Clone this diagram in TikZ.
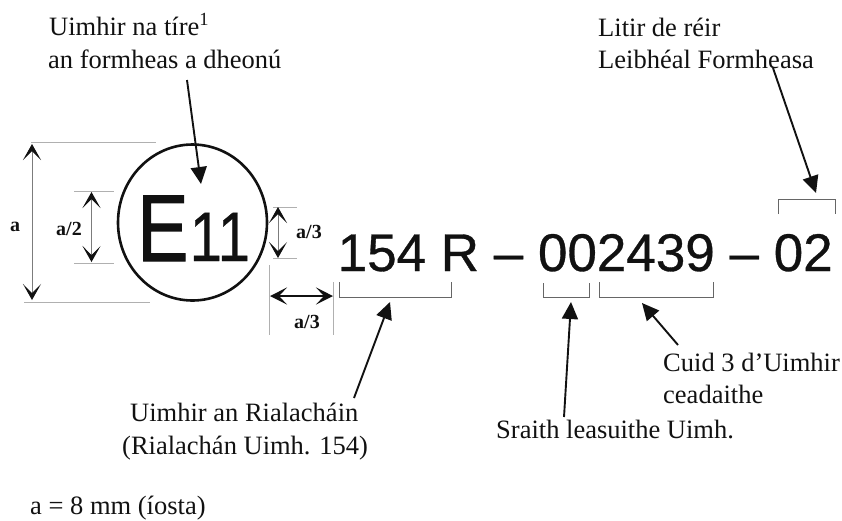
\documentclass[tikz,border=0pt]{standalone}
\usepackage{fontspec}
\setmainfont{Liberation Serif}
\newfontfamily\numfont[FakeBold=0.6]{Liberation Sans}
\newfontfamily\markfont[FakeBold=1.2]{Liberation Sans}
\usetikzlibrary{arrows.meta,shapes.geometric}
\definecolor{ink}{HTML}{111111}
\definecolor{guide}{HTML}{B0B0B0}
\definecolor{brk}{HTML}{666666}
\tikzset{
  lbl/.style={anchor=base west,inner sep=0pt,text=ink,font=\fontsize{26.5}{26.5}\selectfont},
  dimlbl/.style={anchor=base west,inner sep=0pt,text=ink,font=\fontsize{20}{20}\selectfont\bfseries},
  pointer/.style={draw=ink,line width=1.9pt,-{Triangle[length=17pt,width=16pt]}},
  guideline/.style={draw=guide,line width=1pt},
  bracket/.style={draw=brk,line width=1pt},
  dimthin/.style={draw=ink!55,line width=1pt,{Stealth[length=16pt,width=18pt,inset=9pt,color=ink,fill=ink]}-{Stealth[length=16pt,width=18pt,inset=9pt,color=ink,fill=ink]}},
  dimthick/.style={draw=ink,line width=1.8pt,{Stealth[length=17pt,width=17pt,inset=8pt]}-{Stealth[length=17pt,width=17pt,inset=8pt]}},
}
\begin{document}
\begin{tikzpicture}[x=1pt,y=-1pt]
\useasboundingbox (0,0) rectangle (842,520);
% circle mark
\node[ellipse,draw=ink,line width=2.6pt,minimum width=149pt,minimum height=156pt,inner sep=0pt] (ring) at (192.5,222.5) {};
\node[anchor=base west,inner sep=0pt,text=ink,font=\markfont\fontsize{95}{95}\selectfont] (eletter) at (137,261) {\scalebox{0.81}[1]{E}};
\node[anchor=base west,inner sep=0pt,text=ink,font=\numfont\fontsize{70}{70}\selectfont] (enum) at (189.5,261) {\scalebox{0.83}[1]{11}};
\node[anchor=base west,inner sep=0pt,text=ink,font=\numfont\fontsize{53}{53}\selectfont] (code) at (337.5,271) {154 R – 002439 – 02};
% text labels
\node[lbl] (t1a) at (49,35) {Uimhir na tíre\textsuperscript{1}};
\node[lbl] (t1b) at (48,68) {an formheas a dheonú};
\node[lbl] (t2a) at (598,36) {Litir de réir};
\node[lbl] (t2b) at (598,68) {Leibhéal Formheasa};
\node[lbl] (t3a) at (130,421) {Uimhir an Rialacháin};
\node[lbl] (t3b) at (122,454) {(Rialachán Uimh. 154)};
\node[lbl] (t4) at (496,438) {Sraith leasuithe Uimh.};
\node[lbl] (t5a) at (663,371) {Cuid 3 d’Uimhir};
\node[lbl] (t5b) at (663,403) {ceadaithe};
\node[lbl] (t6) at (30,514) {a = 8 mm (íosta)};
\node[dimlbl] (da) at (10,231) {a};
\node[dimlbl] (db) at (56,235) {a/2};
\node[dimlbl] (dc) at (296,238) {a/3};
\node[dimlbl] (dd) at (294,328) {a/3};
% guide lines
\coordinate (g1a) at (31,142.5); \coordinate (g1b) at (156,142.5);
\coordinate (g2a) at (24,302); \coordinate (g2b) at (150,302);
\coordinate (g3a) at (74,191); \coordinate (g3b) at (114,191);
\coordinate (g4a) at (74,263); \coordinate (g4b) at (114,263);
\coordinate (g5a) at (273,207); \coordinate (g5b) at (297,207);
\coordinate (g6a) at (273,258); \coordinate (g6b) at (297,258);
\coordinate (g7a) at (269.5,265); \coordinate (g7b) at (269.5,335);
\coordinate (g8a) at (333,282); \coordinate (g8b) at (333,335);
\foreach \n in {1,...,8} \draw[guideline] (g\n a) -- (g\n b);
% dimension arrows
\coordinate (a1) at (32,144); \coordinate (a2) at (32,300);
\coordinate (b1) at (91.5,192); \coordinate (b2) at (91.5,262);
\coordinate (c1) at (278,207); \coordinate (c2) at (278,258);
\coordinate (d1) at (270,296); \coordinate (d2) at (333,296);
\draw[dimthin] (a1) -- (a2);
\draw[dimthin] (b1) -- (b2);
\draw[dimthin] (c1) -- (c2);
\draw[dimthick] (d1) -- (d2);
% brackets
\coordinate (k1a) at (339.5,282); \coordinate (k1b) at (339.5,297); \coordinate (k1c) at (451,297); \coordinate (k1d) at (451,282);
\coordinate (k2a) at (543,283); \coordinate (k2b) at (543,297); \coordinate (k2c) at (589,297); \coordinate (k2d) at (589,283);
\coordinate (k3a) at (599,282); \coordinate (k3b) at (599,297); \coordinate (k3c) at (713,297); \coordinate (k3d) at (713,282);
\coordinate (k4a) at (778.5,214); \coordinate (k4b) at (778.5,199); \coordinate (k4c) at (835,199); \coordinate (k4d) at (835,214);
\foreach \n in {1,...,4} \draw[bracket] (k\n a) -- (k\n b) -- (k\n c) -- (k\n d);
% pointers
\coordinate (p1s) at (187,80); \coordinate (p1e) at (201,184);
\coordinate (p2s) at (773,68); \coordinate (p2e) at (816,193);
\coordinate (p3s) at (354,398); \coordinate (p3e) at (390,302);
\coordinate (p4s) at (564,417); \coordinate (p4e) at (571,302);
\coordinate (p5s) at (678,345); \coordinate (p5e) at (642,303);
\foreach \n in {1,...,5} \draw[pointer] (p\n s) -- (p\n e);
\end{tikzpicture}
\end{document}
